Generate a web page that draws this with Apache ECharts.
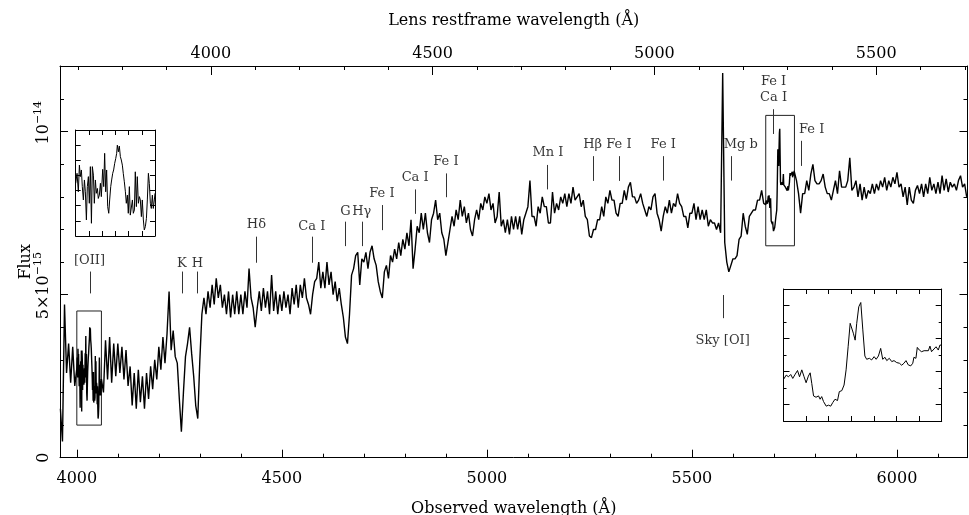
<!DOCTYPE html>
<html><head><meta charset="utf-8">
<script src="https://cdn.jsdelivr.net/npm/echarts@6/dist/echarts.min.js"></script>
<style>html,body{margin:0;padding:0;background:#fff}#chart{width:969px;height:515px}</style>
</head><body><div id="chart"></div>
<script>
// ---------- data ----------
const obsMin = 3959, obsMax = 6172;         // observed wavelength range (Å)
const onePlusZ = 1.0817;                    // lens restframe factor
const fluxMin = 0, fluxMax = 12.015;        // flux in units of 1e-15

const obsMajorTicks = [4000, 4500, 5000, 5500, 6000];
const obsMinorTicks = [4000,4100,4200,4300,4400,4500,4600,4700,4800,4900,5000,5100,5200,5300,5400,5500,5600,5700,5800,5900,6000,6100];
const restMajorTicks = [4000, 4500, 5000, 5500];
const restMinorTicks = [3700,3800,3900,4000,4100,4200,4300,4400,4500,4600,4700,4800,4900,5000,5100,5200,5300,5400,5500,5600,5700];
const fluxMajorTicks = [0, 5, 10];
const fluxMinorTicks = [1,2,3,4,5,6,7,8,9,10,11,12];
const fluxTickLabels = ['0', '5×10{sup|−15}', '10{sup|−14}'];

// main spectrum, 5 Å sampling from 3960 Å (null = covered by the detailed inset samples)
const specStart = 3960, specStep = 5;
const specFlux = [
  1.5,0.5,4.7,2.6,3.5,2.3,3.4,2.2,                                                         // 3960
  null,null,null,null,null,null,null,null,null,null,null,null,null,2.0,3.6,2.4,3.7,2.3,3.5,2.5, // 4000
  3.5,2.6,3.4,2.4,3.3,2.2,2.8,1.6,2.6,1.5,2.7,1.7,2.5,1.5,2.6,1.8,2.8,2.1,3.0,2.4,          // 4100
  3.4,2.7,3.7,2.9,3.8,5.1,3.3,3.9,3.1,2.9,1.8,0.8,2.0,3.1,3.5,4.0,3.2,2.5,1.6,1.2,          // 4200
  3.0,4.4,4.9,4.4,5.1,4.6,5.3,4.7,5.5,4.9,5.3,4.6,5.0,4.4,5.1,4.3,5.0,4.4,5.1,4.4,          // 4300
  5.0,4.4,5.1,4.6,5.8,4.9,4.6,4.0,4.6,5.1,4.5,5.2,4.6,5.1,4.4,5.6,4.5,5.1,4.4,5.0,          // 4400
  4.5,5.1,4.6,5.0,4.4,5.2,4.7,5.3,4.6,5.3,4.9,5.5,4.9,4.7,4.4,5.0,5.4,5.5,6.0,5.2,          // 4500
  5.7,5.2,6.0,5.3,5.7,5.0,5.4,4.8,5.2,4.7,4.3,3.7,3.5,4.4,5.6,5.8,6.2,6.3,5.3,6.1,          // 4600
  6.0,6.3,5.8,6.3,6.5,6.1,5.9,5.4,5.1,4.9,5.7,5.9,5.5,6.2,6.0,6.4,6.1,6.6,6.2,6.7,          // 4700
  6.4,6.9,6.5,7.3,5.8,6.4,7.1,6.9,7.5,7.0,7.5,6.9,6.6,7.3,7.5,7.9,7.3,7.5,6.9,6.7,          // 4800
  6.2,6.6,7.0,7.4,7.1,7.6,7.3,7.9,7.4,7.7,7.2,7.5,7.0,6.8,7.3,7.6,7.3,7.8,7.6,8.0,          // 4900
  7.8,8.1,7.6,7.8,7.2,7.4,8.15,7.1,7.3,6.9,7.3,6.85,7.4,7.0,7.4,7.0,7.4,6.85,7.3,7.5,       // 5000
  7.7,8.5,7.4,7.4,7.1,7.7,7.5,8.0,7.7,7.7,7.2,7.2,8.15,7.5,7.8,7.6,8.0,7.8,8.1,7.7,         // 5100
  8.1,7.8,8.3,7.9,8.0,8.1,7.7,7.9,7.4,7.3,6.8,6.75,7.0,7.0,7.3,7.3,7.7,7.4,8.0,7.8,         // 5200
  8.2,7.9,7.9,7.5,7.4,7.8,7.8,8.2,7.9,8.3,8.45,8.0,8.0,7.8,7.9,8.1,7.8,7.6,7.4,7.7,         // 5300
  7.6,8.0,8.1,7.5,7.3,6.95,7.4,7.7,7.5,7.9,7.5,7.8,7.7,8.1,7.8,7.7,7.4,7.4,7.05,7.5,       // 5400
  7.5,7.8,7.3,7.7,7.3,7.6,7.3,7.6,7.1,7.3,7.2,7.2,7.0,7.2,6.9,11.8,6.6,6.0,5.7,5.9,        // 5500
  6.1,6.1,6.2,6.7,6.8,7.5,7.1,6.85,7.4,7.5,7.6,7.6,7.9,7.9,8.2,7.8,null,null,null,null,    // 5600
  null,null,null,null,null,null,null,null,null,null,8.7,8.5,8.1,7.5,8.1,8.1,8.5,8.2,8.7,9.0, // 5700
  8.5,8.4,8.4,8.5,8.7,8.3,8.1,8.1,7.9,8.2,8.5,8.1,8.8,8.3,8.3,8.3,8.5,9.2,8.2,8.3,          // 5800
  8.5,8.0,8.4,7.9,8.3,7.95,8.2,8.1,8.4,8.1,8.4,8.2,8.5,8.3,8.6,8.2,8.5,8.3,8.6,8.4,         // 5900
  8.75,8.3,8.4,8.0,8.3,7.75,8.3,7.9,7.8,8.2,8.35,8.1,8.4,8.0,8.4,8.1,8.6,8.2,8.4,8.1,       // 6000
  8.45,8.1,8.65,8.2,8.55,8.15,8.45,8.3,8.4,8.2,8.5,8.65,8.3,8.4,8.0                        // 6100
];

// [OII] region, detailed samples (also shown in the upper-left inset)
const inset1Range = [4000, 4060, 1, 4.5];
const inset1Points = [
  [4000.0,2.74],[4001.0,3.07],[4002.0,2.46],[4002.8,3.34],[4003.5,2.96],[4004.3,3.18],[4005.0,2.63],[4005.8,2.19],[4006.6,2.85],[4007.3,2.46],
  [4008.1,1.53],[4008.8,2.63],[4009.6,2.96],[4010.3,2.08],[4011.1,3.29],[4011.9,1.42],[4012.6,3.29],[4013.4,3.01],[4014.1,2.08],[4014.9,2.85],
  [4015.6,2.41],[4016.4,2.57],[4017.1,2.24],[4017.9,2.35],[4018.7,2.74],[4019.4,2.30],[4020.4,3.20],[4021.2,2.63],[4021.9,3.73],[4022.7,2.46],
  [4023.4,3.18],[4024.2,1.97],[4025.0,1.75],[4025.7,2.19],[4026.5,2.63],[4027.2,2.85],[4028.0,3.07],[4028.7,3.18],[4029.5,3.40],[4030.3,3.56],
  [4031.0,3.73],[4031.5,4.00],[4032.3,3.78],[4033.0,3.97],[4033.8,3.62],[4034.5,3.51],[4035.3,3.34],[4036.0,3.07],[4036.8,2.79],[4037.6,2.46],
  [4038.3,2.08],[4039.1,2.35],[4039.8,1.75],[4040.6,2.63],[4041.3,1.69],[4042.1,1.75],[4042.9,2.19],[4043.6,1.75],[4044.4,1.86],[4045.1,3.12],
  [4045.9,1.97],[4046.6,2.96],[4047.4,2.08],[4048.2,2.30],[4048.9,2.19],[4049.7,1.64],[4050.4,2.19],[4051.2,1.53],[4051.9,1.20],[4052.7,1.31],
  [4053.5,1.58],[4054.2,2.19],[4055.0,3.07],[4055.7,2.74],[4056.5,2.08],[4057.2,1.91],[4058.0,2.35],[4058.7,1.91],[4059.5,2.19],[4060.0,2.41]
];
const inset1XTicks = [4010, 4020, 4030, 4040, 4050];
const inset1YTicks = [1.5, 2, 2.5, 3, 3.5, 4];

// Fe I / Ca I region, detailed samples (also shown in the lower-right inset)
const inset2Range = [5680, 5750, 6.5, 10.5];
const inset2Points = [
  [5680.0,7.76],[5681.2,7.89],[5682.2,7.84],[5683.2,7.91],[5684.1,7.79],[5685.2,7.92],[5686.2,8.03],[5687.1,7.84],[5688.1,8.05],[5689.1,7.84],
  [5690.0,7.66],[5691.0,7.86],[5691.8,7.96],[5692.5,7.64],[5693.3,7.26],[5694.4,7.22],[5695.5,7.26],[5696.2,7.16],[5696.9,7.24],[5697.7,7.09],
  [5698.9,6.95],[5699.9,6.98],[5700.9,6.95],[5701.8,7.06],[5702.8,7.16],[5703.9,7.12],[5704.7,7.39],[5705.8,7.42],[5706.8,7.59],[5707.7,8.05],
  [5708.6,8.75],[5709.5,9.46],[5710.2,9.51],[5710.9,9.16],[5711.7,8.95],[5712.4,9.46],[5713.3,9.96],[5714.2,10.09],[5715.1,9.26],[5716.0,8.47],
  [5716.8,8.37],[5718.0,8.40],[5719.0,8.35],[5720.1,8.45],[5721.0,8.37],[5722.0,8.47],[5723.0,8.70],[5723.9,8.37],[5724.9,8.43],[5725.7,8.33],
  [5726.8,8.40],[5727.9,8.30],[5728.9,8.33],[5730.1,8.27],[5731.3,8.25],[5732.3,8.19],[5733.3,8.25],[5734.2,8.33],[5735.2,8.20],[5736.3,8.17],
  [5737.2,8.25],[5737.7,8.43],[5738.6,8.40],[5739.2,8.73],[5740.1,8.65],[5741.1,8.60],[5742.2,8.63],[5743.0,8.60],[5744.1,8.63],[5744.8,8.77],
  [5745.5,8.60],[5746.3,8.57],[5747.5,8.75],[5748.5,8.65],[5749.2,8.80],[5750.0,8.80]
];
const inset2XTicks = [5690, 5700, 5710, 5720, 5730, 5740];
const inset2YMajor = [7, 8, 9, 10];
const inset2YMinor = [7.5, 8.5, 9.5];

// line identifications
const annotNames      = ['[OII]','K','H','Hδ','Ca I','G','Hγ','Fe I','Ca I','Fe I','Mn I','Hβ','Fe I','Fe I','Mg b','Fe I\nCa I','Fe I','Sky [OI]'];
const annotLineWl     = [4032, 4256, 4294, 4438, 4573, 4655, 4696, 4744, 4825, 4900, 5148, 5259, 5322, 5430, 5596, 5699, 5766, 5577];
const annotLineTop    = [5.71, 5.71, 5.71, 6.78, 6.78, 7.24, 7.24, 7.75, 8.23, 8.72, 8.98, 9.25, 9.25, 9.25, 9.25, 10.69, 9.72, 4.99];
const annotLineBottom = [5.04, 5.04, 5.04, 5.98, 5.98, 6.49, 6.49, 6.98, 7.48, 7.99, 8.23, 8.49, 8.49, 8.50, 8.50, 9.93, 8.95, 4.28];
const annotLabelWl    = [4031, 4256, 4294, 4438, 4573, 4655, 4695, 4744, 4825, 4900, 5149, 5258, 5322, 5430, 5619, 5699, 5792, 5575];
const annotLabelY     = [6.06, 5.94, 5.94, 7.14, 7.09, 7.55, 7.55, 8.11, 8.60, 9.08, 9.36, 9.61, 9.61, 9.59, 9.59, 11.29, 10.05, 3.59];

// ---------- build ----------
const FONT = 'DejaVu Serif';
const INK = '#000';

function inRange(w, r) { return w >= r[0] && w <= r[1]; }
const mainData = [];
specFlux.forEach((f, i) => {
  const w = specStart + i * specStep;
  if (f === null || inRange(w, inset1Range) || inRange(w, inset2Range)) return;
  mainData.push([w, f]);
});
inset1Points.forEach(p => mainData.push(p));
inset2Points.forEach(p => mainData.push(p));
mainData.sort((a, b) => a[0] - b[0]);

const tickMap = {};
fluxMajorTicks.forEach((v, i) => {
  const t = fluxTickLabels[i];
  tickMap[v] = t.indexOf('{sup|') >= 0 ? '{sp| }' + t : t;   // PGPLOT-style offset for exponent labels
});

function frameAxis(extra) {
  return Object.assign({
    type: 'value', scale: false,
    axisLine: { show: true, onZero: false, lineStyle: { color: INK, width: 1 } },
    axisTick: { show: true, inside: true, length: 8, lineStyle: { color: INK, width: 1 } },
    axisLabel: { show: false },
    splitLine: { show: false },
    silent: true
  }, extra);
}
function tick(values, len) { return { show: true, inside: true, length: len, customValues: values, lineStyle: { color: INK, width: 1 } }; }
const noLine = { show: false, onZero: false };
const plain = v => String(Math.round(v));

const option = {
  animation: false,
  backgroundColor: '#fff',
  grid: [
    { left: 60, right: 1.5, top: 66, bottom: 57.3, containLabel: false, outerBoundsMode: 'none' },
    { left: 75.7, top: 130, width: 79.3, height: 106, containLabel: false, outerBoundsMode: 'none' },
    { left: 783.5, top: 289, width: 158.2, height: 132, containLabel: false, outerBoundsMode: 'none' }
  ],
  xAxis: [
    frameAxis({ gridIndex: 0, position: 'bottom', min: obsMin, max: obsMax,
      axisTick: tick(obsMajorTicks, 8),
      axisLabel: { show: true, customValues: obsMajorTicks, formatter: plain, margin: 13, fontFamily: FONT, fontSize: 16, color: INK },
      name: 'Observed wavelength (Å)', nameLocation: 'middle', nameGap: 43, nameMoveOverlap: false,
      nameTextStyle: { fontFamily: FONT, fontSize: 16, color: INK } }),
    frameAxis({ gridIndex: 0, position: 'bottom', min: obsMin, max: obsMax, axisLine: noLine, axisTick: tick(obsMinorTicks, 4) }),
    frameAxis({ gridIndex: 0, position: 'top', min: obsMin / onePlusZ, max: obsMax / onePlusZ,
      axisTick: tick(restMajorTicks, 9),
      axisLabel: { show: true, customValues: restMajorTicks, formatter: plain, margin: 4, fontFamily: FONT, fontSize: 16, color: INK },
      name: 'Lens restframe wavelength (Å)', nameLocation: 'middle', nameGap: 37, nameMoveOverlap: false,
      nameTextStyle: { fontFamily: FONT, fontSize: 16, color: INK } }),
    frameAxis({ gridIndex: 0, position: 'top', min: obsMin / onePlusZ, max: obsMax / onePlusZ, axisLine: noLine, axisTick: tick(restMinorTicks, 4) }),
    frameAxis({ gridIndex: 1, position: 'bottom', min: inset1Range[0], max: inset1Range[1], axisTick: tick(inset1XTicks, 5) }),
    frameAxis({ gridIndex: 1, position: 'top', min: inset1Range[0], max: inset1Range[1], axisTick: tick(inset1XTicks, 5) }),
    frameAxis({ gridIndex: 2, position: 'bottom', min: inset2Range[0], max: inset2Range[1], axisTick: tick(inset2XTicks, 5) }),
    frameAxis({ gridIndex: 2, position: 'top', min: inset2Range[0], max: inset2Range[1], axisTick: tick(inset2XTicks, 5) })
  ],
  yAxis: [
    frameAxis({ gridIndex: 0, position: 'left', min: fluxMin, max: fluxMax,
      axisTick: tick(fluxMajorTicks, 8),
      axisLabel: { show: true, customValues: fluxMajorTicks, rotate: 90, margin: 5,
        formatter: v => tickMap[v],
        fontFamily: FONT, fontSize: 16, color: INK, lineHeight: 22, verticalAlign: 'bottom',
        rich: {
          sp: { width: 18, lineHeight: 22 },
          sup: { fontFamily: FONT, fontSize: 11, color: INK, lineHeight: 22, verticalAlign: 'top' }
        } },
      name: 'Flux', nameLocation: 'middle', nameGap: 26, nameMoveOverlap: false,
      nameTextStyle: { fontFamily: FONT, fontSize: 16, color: INK } }),
    frameAxis({ gridIndex: 0, position: 'left', min: fluxMin, max: fluxMax, axisLine: noLine, axisTick: tick(fluxMinorTicks, 4) }),
    frameAxis({ gridIndex: 0, position: 'right', min: fluxMin, max: fluxMax, axisTick: tick(fluxMajorTicks, 8) }),
    frameAxis({ gridIndex: 0, position: 'right', min: fluxMin, max: fluxMax, axisLine: noLine, axisTick: tick(fluxMinorTicks, 4) }),
    frameAxis({ gridIndex: 1, position: 'left', min: inset1Range[2], max: inset1Range[3], axisTick: tick(inset1YTicks, 5) }),
    frameAxis({ gridIndex: 1, position: 'right', min: inset1Range[2], max: inset1Range[3], axisTick: tick(inset1YTicks, 5) }),
    frameAxis({ gridIndex: 2, position: 'left', min: inset2Range[2], max: inset2Range[3], axisTick: tick(inset2YMajor, 6) }),
    frameAxis({ gridIndex: 2, position: 'left', min: inset2Range[2], max: inset2Range[3], axisLine: noLine, axisTick: tick(inset2YMinor, 3) }),
    frameAxis({ gridIndex: 2, position: 'right', min: inset2Range[2], max: inset2Range[3], axisTick: tick(inset2YMajor, 6) }),
    frameAxis({ gridIndex: 2, position: 'right', min: inset2Range[2], max: inset2Range[3], axisLine: noLine, axisTick: tick(inset2YMinor, 3) })
  ],
  series: [
    {
      type: 'line', xAxisIndex: 0, yAxisIndex: 0, data: mainData,
      showSymbol: false, symbol: 'none', clip: true,
      lineStyle: { color: INK, width: 1.4 },
      silent: true,
      markLine: {
        silent: true, symbol: 'none', animation: false,
        label: { show: false },
        lineStyle: { color: '#333', width: 1, type: 'solid' },
        data: annotNames.map((n, i) => [{ coord: [annotLineWl[i], annotLineTop[i]] }, { coord: [annotLineWl[i], annotLineBottom[i]] }])
      },
      markArea: {
        silent: true,
        itemStyle: { color: 'rgba(0,0,0,0)', borderColor: '#222', borderWidth: 1 },
        data: [
          [{ coord: [inset1Range[0], inset1Range[2]] }, { coord: [inset1Range[1], inset1Range[3]] }],
          [{ coord: [inset2Range[0], inset2Range[2]] }, { coord: [inset2Range[1], inset2Range[3]] }]
        ]
      }
    },
    {
      type: 'scatter', xAxisIndex: 0, yAxisIndex: 0, silent: true,
      symbolSize: 1, itemStyle: { color: 'rgba(0,0,0,0)' },
      data: annotNames.map((n, i) => [annotLabelWl[i], annotLabelY[i], n]),
      label: { show: true, position: 'inside', formatter: p => p.data[2],
        fontFamily: FONT, fontSize: 13, lineHeight: 16, color: INK, align: 'center', verticalAlign: 'middle' }
    },
    {
      type: 'line', xAxisIndex: 4, yAxisIndex: 4, data: inset1Points, silent: true,
      showSymbol: false, symbol: 'none', lineStyle: { color: INK, width: 1 }
    },
    {
      type: 'line', xAxisIndex: 6, yAxisIndex: 6, data: inset2Points, silent: true,
      showSymbol: false, symbol: 'none', lineStyle: { color: INK, width: 1 }
    }
  ]
};

const chart = echarts.init(document.getElementById('chart'), null, { renderer: 'canvas' });
chart.setOption(option);
</script></body></html>
